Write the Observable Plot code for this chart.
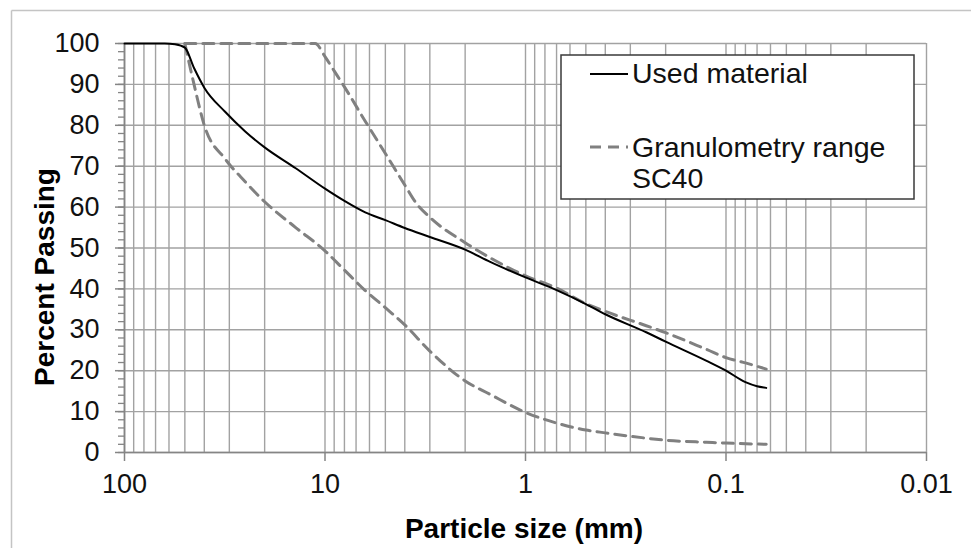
<!DOCTYPE html>
<html>
<head>
<meta charset="utf-8">
<script src="https://cdn.jsdelivr.net/npm/d3@7"></script>
<script src="https://cdn.jsdelivr.net/npm/@observablehq/plot@0.6"></script>
<style>
  html, body { margin: 0; padding: 0; background: #fff; }
  #chart { width: 971px; height: 548px; overflow: hidden; }
</style>
</head>
<body>
<div id="chart"></div>
<script>
// ---- data ----
const usedSize = [100, 80, 63, 56, 50, 45, 40, 31.5, 25, 20, 14, 10, 8, 6.3, 5, 4, 3, 2, 1.5, 1, 0.7, 0.5, 0.4, 0.25, 0.2, 0.125, 0.1, 0.08, 0.07, 0.063];
const usedPass = [100, 100, 100, 99.8, 99, 94, 89.2, 83.3, 78.5, 74.6, 69.5, 64.5, 61.5, 58.7, 56.8, 54.9, 52.7, 49.6, 46.6, 42.8, 39.7, 36.3, 33.8, 29.4, 27.1, 22.4, 20.0, 17.2, 16.2, 15.8];

const lowerSize = [50, 45, 40, 31.5, 25, 20, 14, 10, 8, 6.3, 5, 4, 3, 2, 1.5, 1, 0.7, 0.5, 0.4, 0.25, 0.2, 0.125, 0.1, 0.063];
const lowerPass = [100, 90, 80, 71.8, 66.2, 61.3, 55, 49.3, 44.6, 39.6, 35.4, 31.2, 24.8, 17.5, 14.2, 9.8, 7.2, 5.5, 4.8, 3.5, 3.0, 2.5, 2.3, 2.0];

const upperSize = [50, 40, 31.5, 20, 14, 11.2, 10, 9, 8, 6.3, 5, 4, 3.5, 3, 2, 1.5, 1, 0.7, 0.5, 0.4, 0.25, 0.2, 0.125, 0.1, 0.08, 0.063];
const upperPass = [100, 100, 100, 100, 100, 100, 96.8, 93.3, 89.4, 81, 73.1, 65.4, 60.9, 57.5, 51.3, 47.6, 43.2, 40.2, 36.4, 34.5, 31.0, 29.3, 25.2, 23.2, 21.9, 20.4];

const xTicks = [100, 10, 1, 0.1, 0.01];
const yTicks = [0, 10, 20, 30, 40, 50, 60, 70, 80, 90, 100];
const yMinor = d3.range(0, 101, 2);
const xGrid = [];
[10, 1, 0.1, 0.01].forEach(base => { for (let k = 1; k <= 9; k++) xGrid.push(+(base * k).toPrecision(3)); });
xGrid.push(100);

const seriesNames = ["Used material", "Granulometry range", "SC40"];
const xTitle = "Particle size (mm)";
const yTitle = "Percent Passing";

const used = usedSize.map((s, i) => ({size: s, pass: usedPass[i]}));
const lower = lowerSize.map((s, i) => ({size: s, pass: lowerPass[i]}));
const upper = upperSize.map((s, i) => ({size: s, pass: upperPass[i]}));

const FONT = "'Liberation Sans', Arial, Helvetica, sans-serif";
const gridColor = "#a2a2a2";
const axisColor = "#858585";
const dashColor = "#808080";

const chart = Plot.plot({
  width: 971,
  height: 548,
  marginLeft: 124,
  marginRight: 45,
  marginTop: 43,
  marginBottom: 96,
  style: {fontFamily: FONT, fontSize: "27px", color: "#111", background: "#fff", overflow: "visible"},
  x: {type: "log", domain: [100, 0.01]},
  y: {domain: [0, 100]},
  marks: [
    Plot.ruleX(xGrid, {stroke: gridColor, strokeWidth: 1.4}),
    Plot.ruleY(yTicks, {stroke: gridColor, strokeWidth: 1.4}),
    Plot.ruleX([100], {stroke: axisColor, strokeWidth: 1.7}),
    Plot.ruleY([0], {stroke: axisColor, strokeWidth: 1.7}),
    Plot.axisY({ticks: yMinor, tickSize: 6, tickFormat: () => "", label: null, stroke: axisColor, strokeWidth: 1.3}),
    Plot.axisY({ticks: yTicks, tickSize: 9, tickPadding: 16, tickFormat: d => String(d), label: null, stroke: axisColor, strokeWidth: 1.5, fill: "#111", fontSize: 27}),
    Plot.axisX({ticks: xTicks, tickSize: 9, tickPadding: 12, tickFormat: d => String(d), label: null, stroke: axisColor, strokeWidth: 1.5, fill: "#111", fontSize: 27}),
    Plot.line(lower, {x: "size", y: "pass", stroke: dashColor, strokeWidth: 3, strokeDasharray: "11,7", curve: "monotone-x"}),
    Plot.line(upper, {x: "size", y: "pass", stroke: dashColor, strokeWidth: 3, strokeDasharray: "11,7", curve: "monotone-x"}),
    Plot.line(used, {x: "size", y: "pass", stroke: "#000", strokeWidth: 2, curve: "monotone-x"})
  ]
});

document.getElementById("chart").appendChild(chart);

const svg = d3.select(chart);
// outer frame (top and left edges visible in the reference)
svg.append("line").attr("x1", 11.5).attr("x2", 971).attr("y1", 10.5).attr("y2", 10.5).attr("stroke", "#c4c4c4").attr("stroke-width", 1.5);
svg.append("line").attr("x1", 11.5).attr("x2", 11.5).attr("y1", 10.5).attr("y2", 548).attr("stroke", "#c4c4c4").attr("stroke-width", 1.5);

// axis titles
svg.append("text").text(xTitle)
  .attr("x", 524).attr("y", 538).attr("text-anchor", "middle")
  .style("font-family", FONT).style("font-size", "28px").style("font-weight", "bold").attr("fill", "#000");
svg.append("text").text(yTitle)
  .attr("transform", "translate(54,277) rotate(-90)").attr("text-anchor", "middle")
  .style("font-family", FONT).style("font-size", "28px").style("font-weight", "bold").attr("fill", "#000");

// legend
const lg = svg.append("g");
lg.append("rect").attr("x", 561).attr("y", 55).attr("width", 353).attr("height", 144)
  .attr("fill", "#fff").attr("stroke", "#3a3a3a").attr("stroke-width", 1.5);
lg.append("line").attr("x1", 590).attr("x2", 628).attr("y1", 74).attr("y2", 74).attr("stroke", "#000").attr("stroke-width", 2);
lg.append("line").attr("x1", 590).attr("x2", 628).attr("y1", 147).attr("y2", 147)
  .attr("stroke", dashColor).attr("stroke-width", 3).attr("stroke-dasharray", "11,7");
const lt = (t, y) => lg.append("text").text(t).attr("x", 632).attr("y", y).attr("text-anchor", "start")
  .style("font-family", FONT).style("font-size", "28.5px").attr("fill", "#111");
lt(seriesNames[0], 83);
lt(seriesNames[1], 157);
lt(seriesNames[2], 188);
</script>
</body>
</html>
